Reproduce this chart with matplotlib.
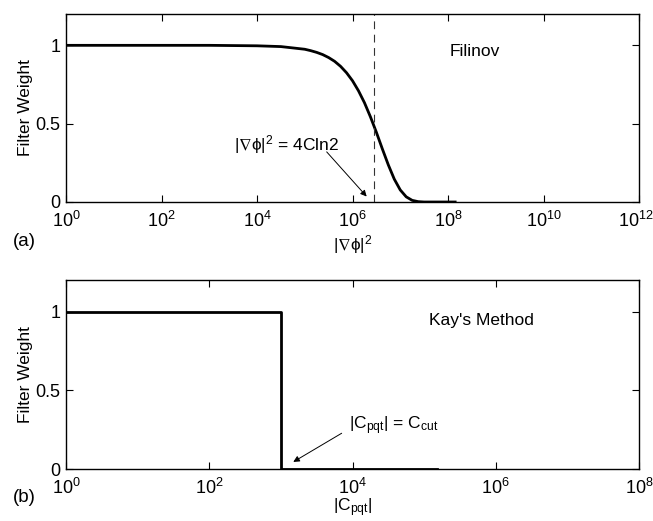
import numpy as np
import matplotlib
matplotlib.use("Agg")
import matplotlib.pyplot as plt
import matplotlib.transforms as mtransforms
from matplotlib.ticker import NullLocator, FixedLocator

plt.rcParams['font.family'] = ['Liberation Sans', 'DejaVu Sans']
plt.rcParams['mathtext.fontset'] = 'custom'
plt.rcParams['mathtext.rm'] = 'Liberation Sans'
plt.rcParams['mathtext.it'] = 'Liberation Sans'
plt.rcParams['mathtext.sf'] = 'Liberation Sans'
plt.rcParams['mathtext.fallback'] = 'stixsans'

# Filinov filter weight vs |grad phi|^2 (log10 of x, weight)
filinov_logx = [0, 1, 2, 3, 4, 4.5, 5.0, 5.125, 5.25, 5.375, 5.5, 5.625, 5.75, 5.875,
                6.0, 6.125, 6.25, 6.375, 6.5, 6.625, 6.75, 6.875, 7.0, 7.125,
                7.25, 7.375, 7.5, 7.75, 8.0, 8.15]
filinov_w = [1.0, 1.0, 1.0, 1.0, 0.997, 0.992, 0.975, 0.966, 0.955, 0.941, 0.922, 0.898,
             0.866, 0.825, 0.774, 0.710, 0.634, 0.544, 0.445, 0.339, 0.237, 0.146,
             0.077, 0.033, 0.0105, 0.0023, 0.0, 0.0, 0.0, 0.0]
filinov_half = 2.86e6   # |grad phi|^2 = 4C ln2

# Kay's method: hard cutoff at C_cut
kay_x = [1, 1e3, 1e3, 1.5e5]
kay_w = [1, 1, 0, 0]

xticks_a = [1e0, 1e2, 1e4, 1e6, 1e8, 1e10, 1e12]
xticks_b = [1e0, 1e2, 1e4, 1e6, 1e8]
yticks = [0, 0.5, 1]
ytick_labels = ['0', '0.5', '1']

W, H = 653, 521
fig = plt.figure(figsize=(W / 100, H / 100), dpi=100)
ax1 = fig.add_axes([66 / W, 1 - 202 / H, 573 / W, 188 / H])
ax2 = fig.add_axes([66 / W, 1 - 469 / H, 573 / W, 189 / H])

fs = 12.5
tfs = 13

for ax, xt, xlim in [(ax1, xticks_a, (1, 1e12)), (ax2, xticks_b, (1, 1e8))]:
    ax.set_xscale('log')
    ax.set_xlim(*xlim)
    ax.set_ylim(0, 1.2)
    ax.xaxis.set_major_locator(FixedLocator(xt))
    ax.xaxis.set_minor_locator(NullLocator())
    ax.set_xticklabels([r'$10^{%d}$' % int(np.log10(v)) for v in xt], fontsize=tfs)
    ax.set_yticks(yticks)
    ax.set_yticklabels(ytick_labels, fontsize=tfs)
    ax.tick_params(direction='in', top=True, right=True, length=5, width=0.8)
    ax.tick_params(axis='x', pad=6.5)
    ax.tick_params(axis='y', pad=4)
    for s in ax.spines.values():
        s.set_linewidth(1.0)
    ax.set_ylabel('Filter Weight', fontsize=fs, labelpad=2)

# nudge the last label of the top axis so it stays inside the figure
last = ax1.get_xticklabels()[-1]
last.set_transform(last.get_transform() +
                   mtransforms.ScaledTranslation(-3 / 100, 0, fig.dpi_scale_trans))

# (a) Filinov
ax1.plot(10 ** np.array(filinov_logx), filinov_w, color='black', lw=2.0)
ax1.axvline(filinov_half, color='#333333', lw=0.8, ls=(0, (7, 5)))
fig.text(475 / W, 1 - 52 / H, 'Filinov', fontsize=fs, ha='center', va='center')
ax1.text(4.25e4, 0.33, r'$|\nabla\phi|^2$ = 4Cln2', fontsize=fs,
         ha='center', va='baseline')
ax1.annotate('', xy=(1.98e6, 0.035), xytext=(2.88e5, 0.32),
             arrowprops=dict(arrowstyle='-|>', color='black', lw=0.7,
                             mutation_scale=9, shrinkA=0, shrinkB=0))
ax1.set_xlabel(r'$|\nabla\phi|^2$', fontsize=fs)
ax1.xaxis.label.set_va('center')
ax1.xaxis.set_label_coords(0.5, -0.228)
fig.text(13 / W, 1 - 242 / H, '(a)', fontsize=fs + 1, va='center')

# (b) Kay's method
ax2.plot(kay_x, kay_w, color='black', lw=2.0)
fig.text(481 / W, 1 - 321 / H, "Kay's Method", fontsize=fs, ha='center', va='center')
ax2.text(3.8e4, 0.25, r'$|C_{pqt}|$ = $C_{cut}$', fontsize=fs,
         ha='center', va='baseline')
ax2.annotate('', xy=(1.49e3, 0.045), xytext=(7.06e3, 0.227),
             arrowprops=dict(arrowstyle='-|>', color='black', lw=0.7,
                             mutation_scale=9, shrinkA=0, shrinkB=0))
ax2.set_xlabel(r'$|C_{pqt}|$', fontsize=fs)
ax2.xaxis.label.set_va('center')
ax2.xaxis.set_label_coords(0.5, -0.205)
fig.text(13 / W, 1 - 498 / H, '(b)', fontsize=fs + 1, va='center')

fig.savefig('out.png', dpi=100)
